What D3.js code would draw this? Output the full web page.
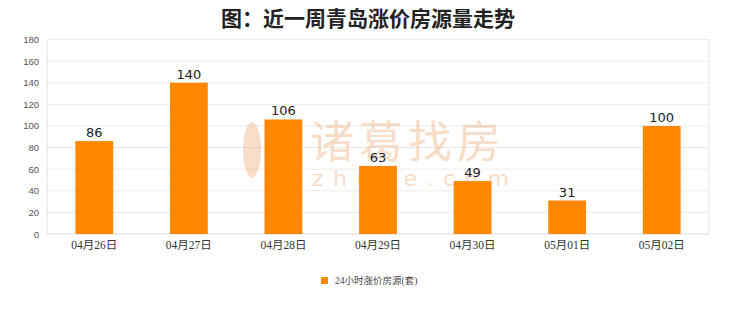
<!DOCTYPE html>
<html><head><meta charset="utf-8">
<script src="https://cdn.jsdelivr.net/npm/d3@7/dist/d3.min.js"></script>
<style>body{margin:0;background:#fff;}svg{display:block;}</style>
</head><body><svg id="c" width="740" height="312"></svg>
<script>
const categories = ["04月26日","04月27日","04月28日","04月29日","04月30日","05月01日","05月02日"];
const values = [86,140,106,63,49,31,100];
const yTicks = [0,20,40,60,80,100,120,140,160,180];
const title = "图：近一周青岛涨价房源量走势";
const seriesName = "24小时涨价房源(套)";

const svg = d3.select("#c");
const m = {l:47, r:31, t:39.5, b:78};
const W = 740, H = 312;
const x = d3.scaleBand().domain(categories).range([m.l, W-m.r]).paddingInner(0.6).paddingOuter(0.3);
const y = d3.scaleLinear().domain([0,180]).range([H-m.b, m.t]);

svg.append("rect").attr("width",W).attr("height",H).attr("fill","#fff");

svg.append("text").attr("x",368).attr("y",26).attr("text-anchor","middle")
  .attr("font-family","'Noto Sans CJK SC',sans-serif").attr("font-weight","bold")
  .attr("font-size",21).attr("fill","#222").text(title);

// grid
svg.append("g").selectAll("line").data(yTicks.filter(d=>d>0)).join("line")
  .attr("x1",m.l).attr("x2",W-m.r).attr("y1",d=>y(d)).attr("y2",d=>y(d))
  .attr("stroke","#ebebeb").attr("stroke-width",1);
// borders
svg.append("line").attr("x1",m.l).attr("x2",m.l).attr("y1",m.t).attr("y2",y(0)).attr("stroke","#e4e4e4");
svg.append("line").attr("x1",W-m.r).attr("x2",W-m.r).attr("y1",m.t).attr("y2",y(0)).attr("stroke","#e4e4e4");
svg.append("line").attr("x1",m.l).attr("x2",W-m.r).attr("y1",y(0)).attr("y2",y(0)).attr("stroke","#dcdcdc");

// watermark
const wm = svg.append("g").attr("opacity",0.3);
wm.append("text").attr("x",310).attr("y",158).attr("font-family","'Noto Sans CJK SC',sans-serif")
  .attr("font-size",44).attr("letter-spacing",5).attr("fill","#e8914a").text("诸葛找房");
wm.append("text").attr("x",312).attr("y",186).attr("font-family","'DejaVu Sans',sans-serif")
  .attr("font-size",22).attr("letter-spacing",9.5).attr("fill","#e8914a").text("zhuge.com");
wm.append("ellipse").attr("cx",252).attr("cy",150).attr("rx",9).attr("ry",28).attr("fill","#e8914a");

// y axis labels
svg.append("g").selectAll("text").data(yTicks).join("text")
  .attr("x",39).attr("y",d=>y(d)+3.5).attr("text-anchor","end")
  .attr("font-family","'Liberation Sans',Arial,sans-serif").attr("font-size",9.5).attr("fill","#555")
  .text(d=>d);

// bars
svg.append("g").selectAll("rect").data(values).join("rect")
  .attr("x",(d,i)=>x(categories[i])).attr("width",x.bandwidth())
  .attr("y",d=>y(d)).attr("height",d=>y(0)-y(d)).attr("fill","#ff8800");

// value labels
svg.append("g").selectAll("text").data(values).join("text")
  .attr("x",(d,i)=>x(categories[i])+x.bandwidth()/2).attr("y",d=>y(d)-4)
  .attr("text-anchor","middle").attr("font-family","'DejaVu Sans',sans-serif")
  .attr("font-size",13).attr("fill","#222").text(d=>d);

// x labels
svg.append("g").selectAll("text").data(categories).join("text")
  .attr("x",d=>x(d)+x.bandwidth()/2).attr("y",249).attr("text-anchor","middle")
  .attr("font-family","'Liberation Serif','Noto Sans CJK SC',serif").attr("font-size",11.5).attr("fill","#333")
  .text(d=>d);

// legend
svg.append("rect").attr("x",321).attr("y",277).attr("width",7).attr("height",7).attr("fill","#ff8800");
svg.append("text").attr("x",335).attr("y",284).attr("font-family","'Liberation Serif','Noto Sans CJK SC',serif")
  .attr("font-size",9.5).attr("fill","#444").text(seriesName);
</script></body></html>
